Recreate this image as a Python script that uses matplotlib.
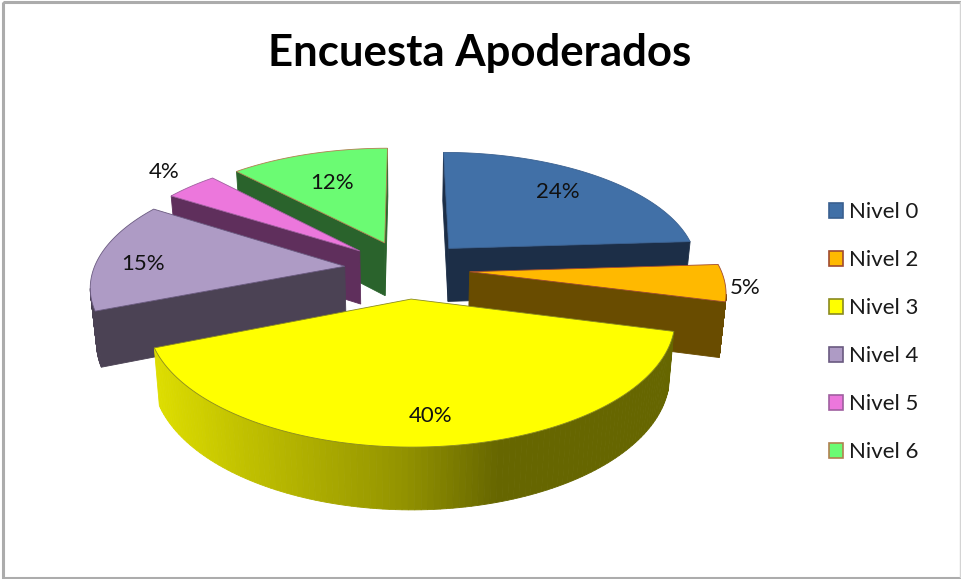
import matplotlib
matplotlib.use('Agg')
import matplotlib.pyplot as plt
from matplotlib.patches import Patch, Rectangle
import numpy as np

# Data
categories = ['Nivel 0', 'Nivel 2', 'Nivel 3', 'Nivel 4', 'Nivel 5', 'Nivel 6']
values = [24, 5, 40, 15, 4, 12]
title = 'Encuesta Apoderados'

# Colours
top_colors = ['#4170A7', '#FFB900', '#FFFF00', '#AE9BC5', '#EC77DC', '#6BFB73']
wall_colors = ['#1C2E47', '#694C00', '#666600', '#4B4254', '#5F2F5C', '#2A632C']
edge_colors = ['#3A6090', '#A04A30', '#8A8A20', '#6A5A80', '#A060A0', '#B08050']

# Camera / layout
CX, CY = 407, 269
A, B = 251, 116
PERSP = 0.149
DEPTH = 54
SHRINK = 0.02
EXPLODE = 0.25
label_xy = [(558, 192), (745, 288), (431, 416), (143, 264), (164, 172), (332, 183)]


def project(x, y, z=0.0):
    # y goes to the back of the pie, z goes down
    w = 1 / (1 + PERSP * y)
    k = 1 - SHRINK * z
    return CX + A * x * w * k, CY - B * y * w * k + DEPTH * z * w


def slice_outline(start, end, explode=EXPLODE):
    # apex first, then the rim counter clockwise
    mid = np.radians((start + end) / 2)
    ox, oy = explode * np.cos(mid), explode * np.sin(mid)
    theta = np.radians(np.linspace(start, end, 120))
    xs = np.concatenate([[ox], ox + np.cos(theta)])
    ys = np.concatenate([[oy], oy + np.sin(theta)])
    return xs, ys


def rim_shade(px):
    # lit on the left, dark from the middle to the right
    return np.interp(px, [155, 240, 400, 500, 680], [0.87, 0.76, 0.58, 0.40, 0.40])


def draw_slice(ax, start, end, i):
    xs, ys = slice_outline(start, end)
    tx, ty = project(xs, ys)
    bx, by = project(xs, ys, 1.0)

    # closed boundary, an edge is seen when it runs left to right
    n = len(tx)
    for a in range(n):
        b = (a + 1) % n
        if tx[b] <= tx[a] and bx[b] <= bx[a]:
            continue
        color = wall_colors[i]
        if categories[i] == 'Nivel 3' and a != 0 and b != 0:
            s = rim_shade((tx[a] + tx[b]) / 2)
            color = (s, s, 0)
        ax.fill([tx[a], tx[b], bx[b], bx[a]], [ty[a], ty[b], by[b], by[a]],
                color=color, lw=0.6, zorder=2)

    ax.fill(tx, ty, facecolor=top_colors[i], edgecolor=edge_colors[i], lw=0.6, zorder=2)


fig = plt.figure(figsize=(9.61, 5.79), dpi=100)
ax = fig.add_axes([0, 0, 1, 1])
ax.set_xlim(0, 961)
ax.set_ylim(579, 0)
ax.axis('off')

# Frame, heavier on the left, top and bottom than on the right
ax.add_patch(Rectangle((2.5, 2), 960, 575.5, fill=False, edgecolor='#ACACAC', lw=2.2))
ax.plot([960, 960], [2, 577], color='#D4D4D4', lw=1)

# Angles run clockwise from 12 o'clock
fractions = np.array(values) / sum(values)
ends = 90 - 360 * np.cumsum(fractions)
starts = ends + 360 * fractions
order = np.argsort([-np.sin(np.radians((s + e) / 2)) for s, e in zip(starts, ends)])
for i in order:
    draw_slice(ax, ends[i], starts[i], i)

for i, v in enumerate(values):
    ax.text(label_xy[i][0], label_xy[i][1], f'{v}%', ha='center', va='center',
            fontsize=16, family='Lato', color='#111111', zorder=5)

ax.text(480, 53, title, ha='center', va='center', fontsize=31.5, family='Lato',
        fontweight='bold', color='black')

handles = [Patch(facecolor=top_colors[i], edgecolor=edge_colors[i], lw=1.2) for i in range(len(categories))]
ax.legend(handles, categories, loc='upper left', bbox_to_anchor=(0.8626, 0.651), frameon=False,
          prop={'family': 'Lato', 'size': 16}, handlelength=0.63, handleheight=0.63,
          handletextpad=0.27, labelspacing=1.26, borderpad=0, borderaxespad=0,
          labelcolor='#1a1a1a')

fig.savefig('out.png', dpi=100)
